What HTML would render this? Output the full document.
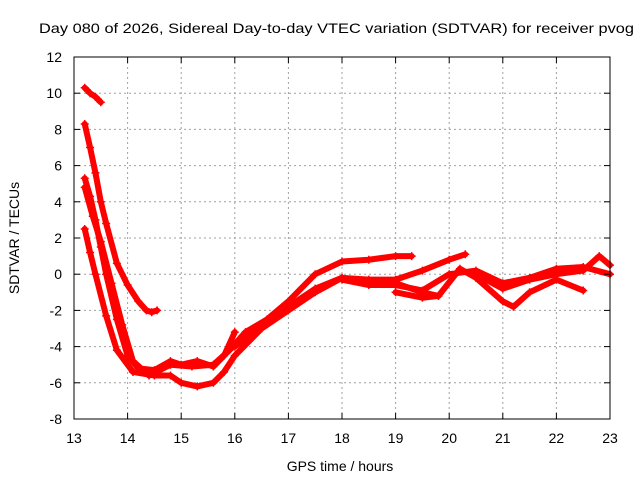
<!DOCTYPE html>
<html><head><meta charset="utf-8"><style>
html,body{margin:0;padding:0;background:#fff;}
svg{display:block;font-family:"Liberation Sans",sans-serif;}
</style></head><body>
<svg id="chart" width="640" height="480" viewBox="0 0 640 480">
<text x="39" y="33" textLength="595" lengthAdjust="spacingAndGlyphs" font-size="14" fill="#000">Day 080 of 2026, Sidereal Day-to-day VTEC variation (SDTVAR) for receiver pvog</text>
<text transform="translate(19,238) rotate(-90)" text-anchor="middle" font-size="14">SDTVAR / TECUs</text>
<text x="340" y="471" text-anchor="middle" font-size="14">GPS time / hours</text>
<g id="grid"></g>
<g id="series"></g>
<rect x="74" y="57" width="536" height="362" fill="none" stroke="#000" stroke-width="1"/>
<g id="ticks"></g>
</svg>
<script>
const xTicks=[13,14,15,16,17,18,19,20,21,22,23];
const yTicks=[-8,-6,-4,-2,0,2,4,6,8,10,12];
const hoursA=[13.2,13.3,13.4,13.5];
const valsA=[10.3,10.0,9.8,9.5];
const hoursB=[13.2,13.3,13.4,13.5,13.6,13.8,14.0,14.2,14.35,14.45,14.55];
const valsB=[8.3,7.0,5.6,4.0,2.8,0.6,-0.6,-1.5,-2.0,-2.1,-2.0];
const hoursC=[13.2,13.3,13.4,13.5,13.6,13.8,14.0,14.2,14.5,14.8,15.0,15.3,15.6,15.8,16.0];
const valsC=[5.3,4.3,3.0,1.5,0.0,-2.5,-4.5,-5.2,-5.3,-4.8,-5.0,-4.8,-5.1,-4.5,-3.2];
const hoursD=[13.2,13.3,13.4,13.6,13.8,14.1,14.5,14.8,15.0,15.3,15.6,15.8,16.0,16.5,17.0,17.5,18.0,18.5,19.0,19.5,19.8];
const valsD=[2.5,1.2,0.0,-2.3,-4.2,-5.4,-5.6,-5.6,-6.0,-6.2,-6.0,-5.4,-4.5,-3.0,-2.0,-1.0,-0.2,-0.5,-0.5,-1.0,-1.2];
const hoursE=[13.2,13.35,13.5,13.7,13.9,14.1,14.4,14.8,15.2,15.6,15.9,16.2,16.6,17.0,17.5,18.0,18.5,19.0,19.3];
const valsE=[4.8,3.2,1.8,-0.5,-2.8,-4.8,-5.6,-5.0,-5.1,-5.0,-4.2,-3.2,-2.5,-1.5,0.0,0.7,0.8,1.0,1.0];
const hoursF=[16.0,16.5,17.0,17.5,18.0,18.5,19.0,19.5,20.0,20.3];
const valsF=[-4.0,-2.8,-1.8,-0.8,-0.2,-0.3,-0.3,0.2,0.8,1.1];
const hoursG=[18.0,18.5,19.0,19.5,20.0,20.5,21.0,21.5,22.0,22.5,23.0];
const valsG=[-0.3,-0.6,-0.6,-0.9,0.0,0.2,-0.5,-0.2,0.3,0.4,0.0];
const hoursH=[19.0,19.5,19.8,20.2,20.5,21.0,21.2,21.5,22.0,22.5];
const valsH=[-1.0,-1.3,-1.2,0.3,-0.2,-1.5,-1.8,-1.0,-0.3,-0.9];
const hoursI=[20.5,21.0,21.5,22.0,22.5,22.8,23.0];
const valsI=[0.0,-0.8,-0.3,0.0,0.2,1.0,0.5];
const tracks=[[hoursA,valsA],[hoursB,valsB],[hoursC,valsC],[hoursD,valsD],[hoursE,valsE],[hoursF,valsF],[hoursG,valsG],[hoursH,valsH],[hoursI,valsI]];
const NS='http://www.w3.org/2000/svg';
function xs(h){return 74+(h-13)*53.6;}
function ys(v){return 419-(v+8)*18.1;}
const grid=document.getElementById('grid'),ticks=document.getElementById('ticks'),series=document.getElementById('series');
function mk(tag,attrs,parent){const e=document.createElementNS(NS,tag);for(const k in attrs)e.setAttribute(k,attrs[k]);parent.appendChild(e);return e;}
xTicks.forEach(t=>{
  const x=xs(t);
  if(t>13&&t<23){const g=mk('line',{x1:x,y1:57,x2:x,y2:419,stroke:'#a0a0a0','stroke-dasharray':'2,3'},grid);
  
  }
  const a=mk('line',{x1:x,y1:419,x2:x,y2:413,stroke:'#000'},ticks);
  
  
  const b=mk('line',{x1:x,y1:57,x2:x,y2:63,stroke:'#000'},ticks);
  
  
  const l=mk('text',{x:x,y:443,'text-anchor':'middle','font-size':'14'},ticks);l.textContent=t;
  
  
});
yTicks.forEach(t=>{
  const y=ys(t);
  if(t>-8&&t<12){const g=mk('line',{x1:74,y1:y,x2:610,y2:y,stroke:'#a0a0a0','stroke-dasharray':'2,3'},grid);
  
  }
  const a=mk('line',{x1:74,y1:y,x2:80,y2:y,stroke:'#000'},ticks);
  
  
  const b=mk('line',{x1:610,y1:y,x2:604,y2:y,stroke:'#000'},ticks);
  
  
  const l=mk('text',{x:62,y:y+5,'text-anchor':'end','font-size':'14'},ticks);l.textContent=t;
  
  
});
tracks.forEach(([hs,vs])=>{
  const pts=hs.map((h,i)=>xs(h)+','+ys(vs[i])).join(' ');
  const pl=mk('polyline',{points:pts,fill:'none',stroke:'#ff0000','stroke-width':'6','stroke-linejoin':'round','stroke-linecap':'round'},series);
  
  
  hs.forEach((h,i)=>{
    const x=xs(h),y=ys(vs[i]);
    const p=mk('path',{d:`M${x-4},${y}H${x+4}M${x},${y-4}V${y+4}`,stroke:'#ff0000','stroke-width':'1.5'},series);
    
    
  });
});
</script>
</body></html>
